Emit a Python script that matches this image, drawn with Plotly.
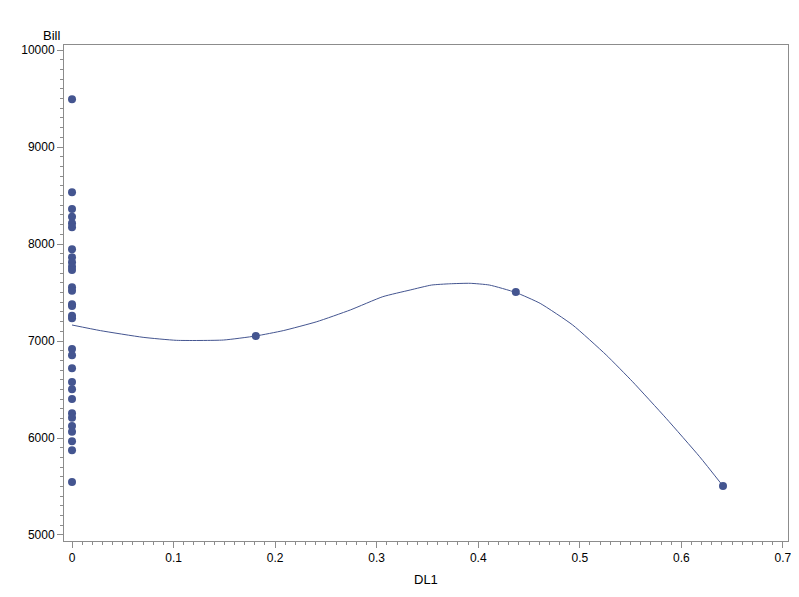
import plotly.graph_objects as go

# Observed points
dl1_zero_bill = [9492, 8533, 8361, 8282, 8213, 8172, 7945, 7863, 7811, 7766, 7732,
                 7553, 7519, 7378, 7361, 7261, 7234,
                 6918, 6852, 6718, 6577, 6502, 6402, 6254, 6209, 6124, 6065,
                 5966, 5873, 5546]
other_dl1 = [0.181, 0.437, 0.641]
other_bill = [7052, 7505, 5505]

dl1 = [0.0] * len(dl1_zero_bill) + other_dl1
bill = dl1_zero_bill + other_bill

# Smoothed fit curve
curve_x = [0.0, 0.028, 0.070, 0.103, 0.149, 0.181, 0.208, 0.241, 0.274, 0.306,
           0.333, 0.354, 0.372, 0.392, 0.411, 0.437, 0.461, 0.493, 0.526,
           0.552, 0.585, 0.618, 0.641]
curve_y = [7165, 7107, 7038, 7007, 7010, 7052, 7107, 7199, 7320, 7457,
           7526, 7577, 7590, 7595, 7577, 7500, 7388, 7165, 6856,
           6580, 6203, 5807, 5505]

x_ticks = [0, 0.1, 0.2, 0.3, 0.4, 0.5, 0.6, 0.7]
x_tick_labels = ["0", "0.1", "0.2", "0.3", "0.4", "0.5", "0.6", "0.7"]
y_ticks = [5000, 6000, 7000, 8000, 9000, 10000]
y_tick_labels = ["5000", "6000", "7000", "8000", "9000", "10000"]

color = "#445590"
font = "Liberation Sans, Arial, sans-serif"

fig = go.Figure()
fig.add_trace(go.Scatter(x=curve_x, y=curve_y, mode="lines",
                         line=dict(color=color, width=1, shape="spline", smoothing=0.5),
                         hoverinfo="skip", showlegend=False))
fig.add_trace(go.Scatter(x=dl1, y=bill, mode="markers",
                         marker=dict(color=color, size=8),
                         showlegend=False))

axis_common = dict(showline=True, linecolor="#8c8c8c", linewidth=1, mirror=True,
                   showgrid=False, zeroline=False, ticks="outside", ticklen=6,
                   tickcolor="#8c8c8c", automargin=False,
                   tickfont=dict(family=font, size=12, color="#000"))

fig.update_xaxes(range=[-0.0079, 0.705], tickvals=x_ticks, ticktext=x_tick_labels,
                 minor=dict(dtick=0.01, ticks="outside", ticklen=3, tickcolor="#8c8c8c"),
                 **axis_common)
fig.update_yaxes(range=[4938, 10052], tickvals=y_ticks, ticktext=y_tick_labels,
                 minor=dict(dtick=100, ticks="outside", ticklen=3, tickcolor="#8c8c8c"),
                 **axis_common)

fig.add_annotation(text="Bill", xref="paper", yref="paper", x=0, y=1,
                   xanchor="right", yanchor="bottom", xshift=-2, yshift=0,
                   showarrow=False, font=dict(family=font, size=13, color="#000"))
fig.add_annotation(text="DL1", xref="paper", yref="paper", x=0.5, y=0,
                   xanchor="center", yanchor="top", yshift=-29,
                   showarrow=False, font=dict(family=font, size=13, color="#000"))

# page body adds an 8px offset; sizes compensate for it
fig.update_layout(width=791, height=581, paper_bgcolor="white", plot_bgcolor="white",
                  margin=dict(l=56, r=11, t=37, b=48, autoexpand=False), showlegend=False)

fig.write_html("out.html")
